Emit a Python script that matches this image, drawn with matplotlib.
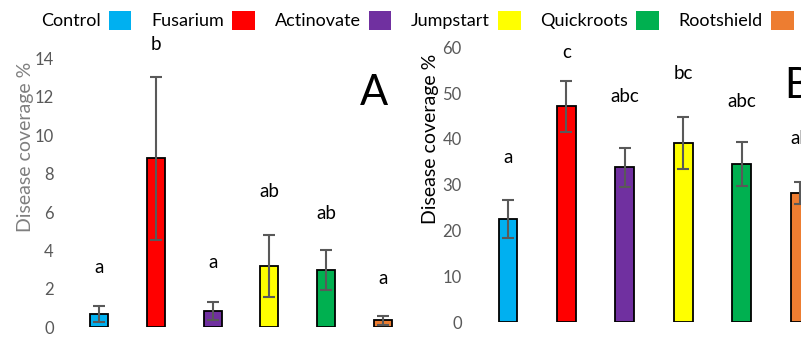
import matplotlib
matplotlib.use('Agg')
import matplotlib.pyplot as plt
from matplotlib.patches import Patch

plt.rcParams['font.family'] = ['Lato', 'DejaVu Sans']

treatments = ['Control', 'Fusarium', 'Actinovate', 'Jumpstart', 'Quickroots', 'Rootshield']
colors = ['#00B0F0', '#FF0000', '#7030A0', '#FFFF00', '#00B050', '#ED7D31']

# panel A
a_mean = [0.69, 8.8, 0.87, 3.19, 2.97, 0.36]
a_err = [0.41, 4.25, 0.47, 1.63, 1.03, 0.22]
a_letters = ['a', 'b', 'a', 'ab', 'ab', 'a']
a_letter_y = [3.1, 14.7, 3.35, 7.05, 5.9, 2.55]

# panel B
b_mean = [22.6, 47.1, 33.8, 39.1, 34.5, 28.2]
b_err = [4.15, 5.5, 4.2, 5.7, 4.85, 2.4]
b_letters = ['a', 'c', 'abc', 'bc', 'abc', 'ab']
b_letter_y = [35.9, 58.8, 49.2, 54.2, 48.1, 40.2]

W, H = 801, 337
fig = plt.figure(figsize=(W / 100, H / 100), dpi=100)

gray = '#595959'


def panel(rect, xlim, ylim, yticks, mean, err, letters, letter_y, tag, tag_xy, ylabel_color, label_xy):
    ax = fig.add_axes(rect)
    x = list(range(len(mean)))
    ax.bar(x, mean, width=0.32, color=colors, edgecolor='black', linewidth=1.3, zorder=2)
    ax.errorbar(x, mean, yerr=err, fmt='none', ecolor=gray, elinewidth=1.5,
                capsize=4.5, capthick=1.5, zorder=3)
    for xi, lab, ly in zip(x, letters, letter_y):
        ax.text(xi, ly, lab, ha='center', va='center', fontsize=13.5, color='black')
    ax.set_xlim(*xlim)
    ax.set_ylim(*ylim)
    ax.set_yticks(yticks)
    ax.set_xticks([])
    ax.tick_params(axis='y', length=0, pad=6, labelsize=12, labelcolor=gray)
    for s in ax.spines.values():
        s.set_visible(False)
    ax.set_ylabel('Disease coverage %', fontsize=14, color=ylabel_color)
    ax.yaxis.set_label_coords(*label_xy)
    ax.text(tag_xy[0], tag_xy[1], tag, transform=ax.transAxes, fontsize=30,
            ha='left', va='center')
    return ax


# panel A: axes from 62 to 410 px, y zero at 327.3 px, 14 at 58.3 px
axA = panel([62 / W, (H - 327.3) / H, 348 / W, 269 / H],
            (-(99 - 62) / 56.8, (410 - 99) / 56.8), (0, 14), range(0, 15, 2),
            a_mean, a_err, a_letters, a_letter_y, 'A', (0.855, 0.87), '#7f7f7f',
            (-0.08, 0.67))

# panel B: axes from 470 to 801 px, y zero at 322.3 px, 60 at 47.3 px
axB = panel([470 / W, (H - 322.3) / H, 331 / W, 275 / H],
            (-(508 - 470) / 58.4, (801 - 508) / 58.4), (0, 60), range(0, 61, 10),
            b_mean, b_err, b_letters, b_letter_y, 'B', (0.95, 0.86), 'black',
            (-0.095, 0.667))

handles = [Patch(facecolor=c, edgecolor='none') for c in colors]
fig.legend(handles, treatments, ncol=6, loc='upper left', bbox_to_anchor=(30 / W, 1.0),
           frameon=False, markerfirst=False, fontsize=13, handlelength=1.25,
           handleheight=1.25, handletextpad=0.45, columnspacing=1.1, borderaxespad=0.2)

fig.savefig('out.png', dpi=100)
